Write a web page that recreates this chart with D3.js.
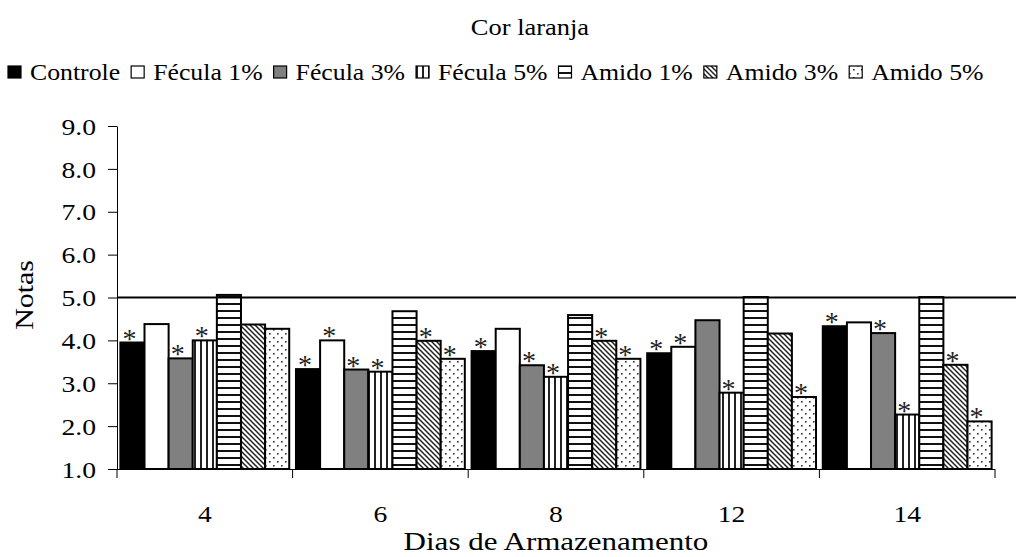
<!DOCTYPE html>
<html><head><meta charset="utf-8">
<script src="https://cdn.jsdelivr.net/npm/d3@7"></script>
<style>
html,body{margin:0;padding:0;background:#fff;}
</style></head>
<body><svg id="c" width="1016" height="557"></svg>
<script>
const categories = ["4","6","8","12","14"];
const seriesNames = ["Controle","Fécula 1%","Fécula 3%","Fécula 5%","Amido 1%","Amido 3%","Amido 5%"];
const controle = [3.95,3.33,3.75,3.70,4.33];
const fecula1  = [4.38,4.00,4.27,3.85,4.42];
const fecula3  = [3.58,3.32,3.42,4.47,4.17];
const fecula5  = [4.00,3.27,3.15,2.78,2.27];
const amido1   = [5.06,4.68,4.59,5.01,5.01];
const amido3   = [4.37,3.99,3.99,4.16,3.43];
const amido5   = [4.27,3.57,3.57,2.68,2.11];
const controleSig = [1,1,1,1,1];
const fecula1Sig  = [0,1,0,1,0];
const fecula3Sig  = [1,1,1,0,1];
const fecula5Sig  = [1,1,1,1,1];
const amido1Sig   = [0,0,0,0,0];
const amido3Sig   = [0,1,1,0,1];
const amido5Sig   = [0,1,1,1,1];
const yTicks = [1.0,2.0,3.0,4.0,5.0,6.0,7.0,8.0,9.0];
const refValue = 5.0;
const titleText = "Cor laranja";
const xTitle = "Dias de Armazenamento";
const yTitle = "Notas";

const seriesValues = [controle,fecula1,fecula3,fecula5,amido1,amido3,amido5];
const seriesSig = [controleSig,fecula1Sig,fecula3Sig,fecula5Sig,amido1Sig,amido3Sig,amido5Sig];
const fills = ["#000","#fff","#808080","url(#pV)","url(#pH)","url(#pD)","url(#pDot)"];
const FONT = "'Liberation Serif', 'Times New Roman', Tinos, serif";

const svg = d3.select("#c");
const SX = 1.15;
function stretch(sel, sx){ sx = sx||SX; sel.each(function(){ const w=this.getComputedTextLength(); d3.select(this).attr("textLength", w*sx).attr("lengthAdjust","spacingAndGlyphs"); }); return sel; }
function txt(parent){ return parent.append("text").attr("font-family",FONT).attr("fill","#000"); }

// patterns
const defs = svg.append("defs");
let p = defs.append("pattern").attr("id","pV").attr("patternUnits","userSpaceOnUse").attr("width",6).attr("height",6);
p.append("rect").attr("width",6).attr("height",6).attr("fill","#fff");
p.append("rect").attr("x",2).attr("width",2).attr("height",6).attr("fill","#222");
p = defs.append("pattern").attr("id","pH").attr("patternUnits","userSpaceOnUse").attr("width",7).attr("height",7);
p.append("rect").attr("width",7).attr("height",7).attr("fill","#fff");
p.append("rect").attr("y",2).attr("width",7).attr("height",2).attr("fill","#111");
p = defs.append("pattern").attr("id","pD").attr("patternUnits","userSpaceOnUse").attr("width",5).attr("height",5);
p.append("rect").attr("width",5).attr("height",5).attr("fill","#fff");
p.append("path").attr("d","M-1,-1 L6,6 M-1,4 L1,6 M4,-1 L6,1").attr("stroke","#222").attr("stroke-width",1.5);
p = defs.append("pattern").attr("id","pDot").attr("patternUnits","userSpaceOnUse").attr("width",8).attr("height",8);
p.append("rect").attr("width",8).attr("height",8).attr("fill","#fff");
p.append("rect").attr("x",1).attr("y",1).attr("width",1.6).attr("height",1.6).attr("fill","#333");
p.append("rect").attr("x",5).attr("y",5).attr("width",1.6).attr("height",1.6).attr("fill","#333");

const x0 = d3.scaleBand().domain(categories).range([117,995]).padding(0);
const x1 = d3.scaleBand().domain(seriesNames).range([0,x0.bandwidth()]).paddingInner(0).paddingOuter(0.14);
const y = d3.scaleLinear().domain([1,9]).range([469,126]);

// title
stretch(txt(svg).attr("x",530).attr("y",35).attr("text-anchor","middle").attr("font-size",23).text(titleText));

// legend
const leg = svg.append("g");
let lx = 8;
seriesNames.forEach((n,i)=>{
  leg.append("rect").attr("x",lx).attr("y",66).attr("width",13).attr("height",12).attr("fill",fills[i]).attr("stroke","#000").attr("stroke-width",1.2);
  lx += 22;
  const t = txt(leg).attr("x",lx).attr("y",80).attr("font-size",23).text(n);
  stretch(t, 1.12);
  lx += (+t.attr("textLength")) + 11;
});

// bars
const g = svg.append("g");
categories.forEach((c,ci)=>{
  seriesNames.forEach((s,si)=>{
    const v = seriesValues[si][ci];
    const bx = x0(c)+x1(s);
    g.append("rect").attr("x",bx).attr("y",y(v)).attr("width",x1.bandwidth()).attr("height",y(1)-y(v))
      .attr("fill",fills[si]).attr("stroke","#000").attr("stroke-width",2);
    if(seriesSig[si][ci]){
      txt(g).attr("x",bx+x1.bandwidth()/2-3).attr("y",y(v)+5).attr("text-anchor","middle").attr("font-size",28).attr("fill","#222").text("*");
    }
  });
});

// ref line
svg.append("line").attr("x1",117).attr("x2",1016).attr("y1",y(refValue)).attr("y2",y(refValue)).attr("stroke","#000").attr("stroke-width",2);

// y axis
const ya = svg.append("g").attr("transform","translate(117,0)").call(d3.axisLeft(y).tickValues(yTicks).tickFormat(d3.format(".1f")).tickSize(9).tickSizeOuter(0));
ya.attr("font-family",FONT);
ya.select(".domain").attr("stroke","#000");
ya.selectAll("text").attr("font-size",24).attr("font-family",FONT).attr("fill","#000").attr("x",-21).attr("dy","0.34em").each(function(){stretch(d3.select(this));});

// x axis
const xa = svg.append("g").attr("transform","translate(0,469)").call(d3.axisBottom(x0).tickSize(0).tickSizeOuter(0));
xa.attr("font-family",FONT);
xa.select(".domain").attr("stroke","#000").attr("d","M108,0.5H995");
xa.selectAll("text").attr("font-size",24).attr("font-family",FONT).attr("fill","#000").attr("y",0).attr("dy",53).each(function(){stretch(d3.select(this));});
const bounds = categories.map(c=>x0(c)).concat([x0(categories[categories.length-1])+x0.bandwidth()]);
xa.selectAll("line.bt").data(bounds).enter().append("line").attr("class","bt").attr("x1",d=>d).attr("x2",d=>d).attr("y1",0).attr("y2",9).attr("stroke","#000");

// axis titles
stretch(txt(svg).attr("x",556).attr("y",550).attr("text-anchor","middle").attr("font-size",25).text(xTitle), 1.24);
stretch(txt(svg).attr("transform","translate(33,295) rotate(-90)").attr("text-anchor","middle").attr("font-size",26).text(yTitle));
</script></body></html>
